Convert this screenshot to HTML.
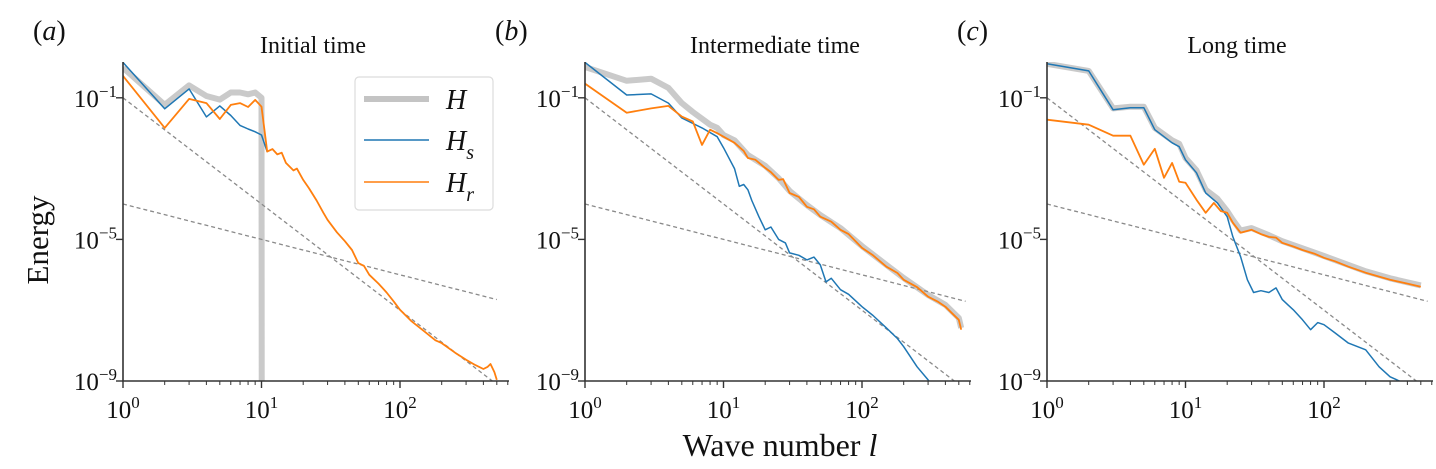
<!DOCTYPE html>
<html><head><meta charset="utf-8">
<style>
html,body{margin:0;padding:0;background:#fff;}
svg{display:block;font-family:"Liberation Serif",serif;}
</style></head>
<body>
<svg id="fig" width="1436" height="469" viewBox="0 0 1436 469" xmlns="http://www.w3.org/2000/svg"></svg>
<script>
// ---------- data (l = wave number, values = log10 energy) ----------
const panelLetters = ['a','b','c'];
const panelTitles = ['Initial time','Intermediate time','Long time'];
const xTickLabels = ['0','1','2'];
const yTickExps = [-1,-5,-9];

// Panel a
const aL_H  = [1,2,3,4,5,6,7,8,9,10,10.05,600];
const aV_H  = [-0.15,-1.2,-0.65,-0.95,-1.05,-0.85,-0.85,-0.9,-0.85,-1.0,-12,-12];
const aL_Hs = [1,2,3,4,5,6,7,8,9,10,11];
const aV_Hs = [0.0,-1.31,-0.75,-1.54,-1.23,-1.5,-1.78,-1.88,-1.96,-2.05,-2.52];
const aL_Hr = [1,2,3,4,5,6,7,8,9,10,11,12,13,14,15,17,18,20,22,25,28,30,35,40,45,50,55,60,70,80,90,100,120,150,180,200,250,300,350,400,430,450,480,500];
const aV_Hr = [-0.38,-1.85,-1.03,-1.15,-1.6,-1.2,-1.15,-1.26,-1.06,-1.25,-2.52,-2.45,-2.6,-2.55,-2.84,-3.05,-3.0,-3.32,-3.55,-3.9,-4.25,-4.45,-4.8,-5.05,-5.3,-5.67,-5.75,-6.0,-6.25,-6.5,-6.75,-6.99,-7.3,-7.6,-7.85,-7.93,-8.2,-8.4,-8.55,-8.66,-8.6,-8.52,-8.75,-8.97];

// Panel b
const bL_H  = [1,2,3,4,5,6,8,9,10,12,15,20,25,30,40,50,70,100,150,200,300,400,500,520];
const bV_H  = [-0.13,-0.52,-0.46,-0.72,-1.15,-1.4,-1.76,-1.85,-2.05,-2.2,-2.62,-2.92,-3.27,-3.63,-4.03,-4.31,-4.68,-5.19,-5.72,-6.09,-6.57,-6.85,-7.22,-7.5];
const bL_Hs = [1,2,3,4,5,7,9,10,12,13,14,15,16,18,20,22,25,28,30,35,40,45,50,55,60,70,80,100,120,150,180,200,250,300,330];
const bV_Hs = [0.0,-0.92,-0.89,-1.15,-1.57,-1.85,-2.1,-2.41,-3.0,-3.5,-3.45,-3.6,-3.9,-4.36,-4.73,-4.65,-5.0,-5.1,-5.38,-5.45,-5.58,-5.5,-5.72,-6.2,-6.1,-6.42,-6.55,-6.9,-7.15,-7.5,-7.8,-8.03,-8.6,-8.97,-9.2];
const bL_Hr = [1,2,3,4,5,6,7,8,9,10,12,14,15,17,20,22,25,27,30,35,40,45,50,60,70,80,100,120,150,180,200,250,300,350,400,450,500,520];
const bV_Hr = [-0.6,-1.42,-1.3,-1.23,-1.53,-1.67,-2.33,-1.9,-2.0,-2.1,-2.27,-2.5,-2.7,-2.75,-2.98,-3.1,-3.32,-3.3,-3.69,-3.8,-4.08,-4.15,-4.36,-4.5,-4.73,-4.85,-5.24,-5.45,-5.77,-5.95,-6.14,-6.35,-6.62,-6.75,-6.9,-7.1,-7.27,-7.55];

// Panel c
const cL_H  = [1,2,3,4,5,6,8,9,10,12,14,17,20,22,25,30,40,50,70,100,150,200,300,500];
const cV_H  = [-0.04,-0.24,-1.3,-1.25,-1.25,-1.85,-2.2,-2.3,-2.7,-3.05,-3.6,-3.85,-4.2,-4.45,-4.75,-4.68,-4.88,-5.05,-5.25,-5.47,-5.72,-5.9,-6.1,-6.3];
const cL_Hs = [1,2,3,4,5,6,8,9,10,12,14,17,20,22,25,28,31,35,40,45,50,55,60,70,80,90,100,120,150,200,250,300,350];
const cV_Hs = [-0.04,-0.24,-1.34,-1.28,-1.28,-1.9,-2.27,-2.38,-2.75,-3.12,-3.69,-3.97,-4.36,-4.93,-5.49,-6.14,-6.5,-6.45,-6.5,-6.37,-6.7,-6.85,-6.99,-7.27,-7.55,-7.35,-7.41,-7.64,-7.93,-8.12,-8.6,-8.88,-9.0];
const cL_Hr = [1,2,3,4,5,6,7,8,9,10,12,14,16,18,20,22,25,30,35,40,45,50,60,70,85,100,120,150,200,250,300,400,500];
const cV_Hr = [-1.62,-1.76,-2.07,-2.07,-2.89,-2.44,-3.26,-2.84,-3.37,-3.4,-3.88,-4.25,-3.97,-4.2,-4.25,-4.53,-4.81,-4.73,-4.85,-4.93,-4.95,-5.1,-5.2,-5.3,-5.4,-5.52,-5.62,-5.77,-5.94,-6.05,-6.14,-6.25,-6.34];

// reference power laws: log10 E = intercept + slope*log10 l
const refIntercepts = [-1,-4];
const refSlopes = [-3,-1];

const panels = [
  {x0:123, H:[aL_H,aV_H], Hs:[aL_Hs,aV_Hs], Hr:[aL_Hr,aV_Hr]},
  {x0:585, H:[bL_H,bV_H], Hs:[bL_Hs,bV_Hs], Hr:[bL_Hr,bV_Hr]},
  {x0:1047,H:[cL_H,cV_H], Hs:[cL_Hs,cV_Hs], Hr:[cL_Hr,cV_Hr]}
];

// ---------- drawing ----------
const NS='http://www.w3.org/2000/svg';
const svg=document.getElementById('fig');
const PXD_X=138.5, PXD_Y=35.4, Y_BOT=381, Y_TOP=62, X_LEN=386;
function mk(tag,attrs,parent){const e=document.createElementNS(NS,tag);for(const k in attrs)e.setAttribute(k,attrs[k]);(parent||svg).appendChild(e);return e;}

const defs=mk('defs',{});
panels.forEach((p,i)=>{
  const xs=l=>p.x0+Math.log10(l)*PXD_X;
  const ys=v=>Y_BOT-(v+9)*PXD_Y;
  const g=mk('g',{});
  
  
  const cp=mk('clipPath',{id:'clip'+i},defs);
  mk('rect',{x:p.x0,y:Y_TOP,width:X_LEN,height:Y_BOT-Y_TOP},cp);
  const plot=mk('g',{'clip-path':'url(#clip'+i+')'},g);
  
  
  function line(L,V,stroke,w,name,op){
    const d=L.map((l,k)=>(k?'L':'M')+xs(l).toFixed(1)+','+ys(V[k]).toFixed(1)).join('');
    const e=mk('path',{d:d,fill:'none',stroke:stroke,'stroke-width':w,'stroke-linejoin':'round','stroke-opacity':op||1},plot);
    
    
  }
  line(p.H[0],p.H[1],'#bdbdbd',6,'series-H-'+panelLetters[i],0.8);
  // reference dashed lines
  refIntercepts.forEach((b,k)=>{
    const l1=1,l2=(i===0?500:560);
    const e=mk('line',{x1:xs(l1),y1:ys(b+refSlopes[k]*Math.log10(l1)),x2:xs(l2),y2:ys(b+refSlopes[k]*Math.log10(l2)),stroke:'#8a8a8a','stroke-width':1.3,'stroke-dasharray':'4,3'},plot);
    
    
  });
  line(p.Hs[0],p.Hs[1],'#1f77b4',1.5,'series-Hs-'+panelLetters[i]);
  line(p.Hr[0],p.Hr[1],'#ff7f0e',1.8,'series-Hr-'+panelLetters[i]);
  // axes
  const ax=mk('path',{d:`M${p.x0},${Y_TOP}L${p.x0},${Y_BOT}L${p.x0+X_LEN},${Y_BOT}`,fill:'none',stroke:'#333','stroke-width':1.6},g);
  
  
  // x ticks
  for(let d=0;d<3;d++){
    for(let m=1;m<10;m++){
      const l=m*Math.pow(10,d); const x=xs(l); if(x>p.x0+X_LEN)break;
      mk('line',{x1:x,y1:Y_BOT,x2:x,y2:Y_BOT+(m===1?7:4),stroke:'#333','stroke-width':m===1?1.4:1},g);
    }
  }
  xTickLabels.forEach((t,k)=>{
    const tx=mk('text',{x:xs(Math.pow(10,k)),y:418,'text-anchor':'middle','font-size':25,fill:'#111'},g);
    
    
    tx.innerHTML='10<tspan dy="-10" font-size="17">'+t+'</tspan>';
  });
  yTickExps.forEach(e=>{
    const y=ys(e);
    mk('line',{x1:p.x0-7,y1:y,x2:p.x0,y2:y,stroke:'#333','stroke-width':1.4},g);
    const tx=mk('text',{x:p.x0-6,y:y+9,'text-anchor':'end','font-size':25,fill:'#111'},g);
    
    
    tx.innerHTML='10<tspan dy="-10" font-size="17">−'+(-e)+'</tspan>';
  });
  const ti=mk('text',{x:p.x0+190,y:53,'text-anchor':'middle','font-size':24,fill:'#111'},g);
  
  
  ti.textContent=panelTitles[i];
  const lt=mk('text',{x:p.x0-90,y:40,'font-size':28,fill:'#111'},g);
  
  
  lt.innerHTML='(<tspan font-style="italic">'+panelLetters[i]+'</tspan>)';
});

// axis titles
const yt=mk('text',{x:0,y:0,transform:'translate(48,240) rotate(-90)','text-anchor':'middle','font-size':31,fill:'#111'});


yt.textContent='Energy';
const xt=mk('text',{x:780,y:456,'text-anchor':'middle','font-size':32,fill:'#111'});


xt.innerHTML='Wave number <tspan font-style="italic">l</tspan>';

// legend
const lg=mk('g',{});


mk('rect',{x:355,y:77,width:138,height:133,rx:4,fill:'#fff','fill-opacity':0.9,stroke:'#dcdcdc','stroke-width':1.2},lg);
const legItems=[['#c4c4c4',6,99,''],['#1f77b4',1.5,140,'s'],['#ff7f0e',1.5,182,'r']];
legItems.forEach(it=>{
  const e=mk('g',{},lg);
  
  
  mk('line',{x1:364,y1:it[2],x2:429,y2:it[2],stroke:it[0],'stroke-width':it[1]},e);
  const t=mk('text',{x:446,y:it[2]+10,'font-size':28,'font-style':'italic',fill:'#111'},e);
  t.innerHTML='H'+(it[3]?'<tspan dy="9" font-size="20">'+it[3]+'</tspan>':'');
});
</script>
</body></html>
